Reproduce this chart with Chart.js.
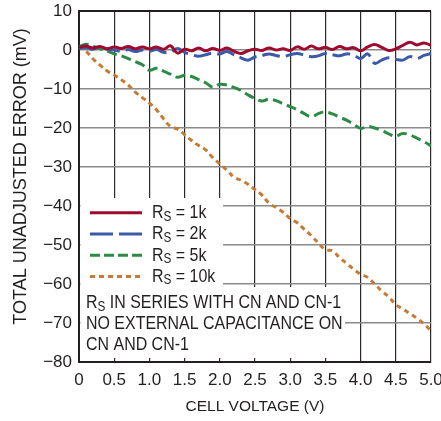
<!DOCTYPE html>
<html>
<head>
<meta charset="utf-8">
<script src="https://cdn.jsdelivr.net/npm/chart.js@4/dist/chart.umd.min.js"></script>
<style>
  html, body { margin: 0; padding: 0; background: #fff; }
</style>
</head>
<body>
<canvas id="errChart" width="441" height="421"></canvas>
<script>
// cell voltage (V), 0.1 V steps
const volts = [0.0, 0.1, 0.2, 0.3, 0.4, 0.5, 0.6, 0.7, 0.8, 0.9,
  1.0, 1.1, 1.2, 1.3, 1.4, 1.5, 1.6, 1.7, 1.8, 1.9,
  2.0, 2.1, 2.2, 2.3, 2.4, 2.5, 2.6, 2.7, 2.8, 2.9,
  3.0, 3.1, 3.2, 3.3, 3.4, 3.5, 3.6, 3.7, 3.8, 3.9,
  4.0, 4.1, 4.2, 4.3, 4.4, 4.5, 4.6, 4.7, 4.8, 4.9, 5.0];

// total unadjusted error (mV) per source resistance
const err1k = [0.7, 1.0, 0.5, 0.9, 0.3, 0.8, 0.4, 0.9, 0.3, 0.8,
  0.3, 0.8, 0.2, 1.1, -0.8, 0.2, -0.2, 0.5, -0.2, 0.4,
  -0.1, 0.5, -0.3, -0.9, -0.2, 0.2, -0.1, 0.5, 0.0, 0.3,
  -0.1, 0.8, 0.2, 1.0, 0.3, 0.7, 0.1, 0.9, 0.3, 0.6,
  -0.2, 0.8, 1.4, 0.7, -0.1, 0.3, 1.2, 2.0, 1.3, 1.8, 1.2];
const err2k = [0.4, 0.6, 0.2, 0.8, 0.2, 0.0, -0.3, 0.1, -0.4, 0.0,
  -0.3, 0.1, -0.6, -0.6, 0.4, -0.6, -1.2, -1.6, -1.2, -0.8,
  -1.0, -0.4, -1.2, -2.0, -2.6, -1.8, -1.4, -1.0, -1.4, -1.7,
  -1.2, -0.9, -1.3, -1.7, -1.5, -0.9, -1.2, -1.5, -1.0, -1.3,
  -2.2, -1.0, -3.4, -2.6, -2.0, -2.4, -2.6, -1.7, -2.2, -1.4, -0.9];
const err5k = [0.8, 1.5, 1.0, 0.3, -0.3, -1.0, -1.5, -2.2, -3.0, -3.8,
  -5.2, -4.7, -5.4, -6.2, -7.0, -6.5, -6.8, -7.6, -8.4, -9.5,
  -8.8, -9.0, -9.6, -10.4, -11.5, -12.4, -13.1, -12.6, -13.0, -13.8,
  -14.5, -15.3, -16.3, -17.1, -16.3, -15.9, -16.4, -17.2, -18.0, -19.0,
  -20.1, -19.6, -20.0, -20.6, -21.5, -22.1, -21.4, -21.8, -22.6, -23.5, -24.6];
const err10k = [1.0, -0.3, -2.3, -3.9, -5.4, -6.4, -7.6, -9.0, -10.8, -12.2,
  -13.6, -15.3, -17.6, -19.6, -20.3, -21.7, -23.2, -24.5, -25.6, -27.6,
  -29.2, -30.8, -32.6, -33.4, -34.4, -35.8, -37.2, -39.3, -40.4, -41.6,
  -43.2, -44.3, -46.0, -47.6, -49.5, -51.2, -51.5, -53.2, -54.7, -56.2,
  -57.5, -58.3, -60.0, -61.8, -63.3, -65.3, -66.4, -67.6, -68.8, -70.2, -72.0];

const rsLabels = ['1k', '2k', '5k', '10k'];
const noteLines = ['IN SERIES WITH CN AND CN-1', 'NO EXTERNAL CAPACITANCE ON', 'CN AND CN-1'];

const FONT = "'Liberation Sans', Arial, sans-serif";
const INK = '#231f20';
const SQUEEZE = 0.84; // the sheet uses a condensed face

Chart.defaults.font.family = FONT;
Chart.defaults.color = INK;

function pts(ys) {
  return volts.map((v, i) => ({ x: v, y: ys[i] }));
}

function minusSign(v) {
  return v < 0 ? '\u2212' + Math.abs(v) : String(v);
}

// "R" + subscript "S" + rest, squeezed horizontally
function drawRs(ctx, x, y, rest, size) {
  ctx.save();
  ctx.translate(x, y);
  ctx.scale(SQUEEZE, 1);
  let cx = 0;
  ctx.font = size + 'px ' + FONT;
  ctx.fillText('R', cx, 0);
  cx += ctx.measureText('R').width;
  ctx.font = Math.round(size * 0.75) + 'px ' + FONT;
  ctx.fillText('S', cx, 4);
  cx += ctx.measureText('S').width;
  ctx.font = size + 'px ' + FONT;
  ctx.fillText(rest, cx, 0);
  ctx.restore();
}

function drawText(ctx, x, y, text, size) {
  ctx.save();
  ctx.translate(x, y);
  ctx.scale(SQUEEZE, 1);
  ctx.font = size + 'px ' + FONT;
  ctx.fillText(text, 0, 0);
  ctx.restore();
}

// legend and note boxes sit over the grid, like the original sheet
const notesPlugin = {
  id: 'notes',
  afterDatasetsDraw(chart) {
    const { ctx, chartArea: a } = chart;
    ctx.save();
    ctx.fillStyle = '#fff';
    ctx.fillRect(a.left + 1.5, 198, 144 - 1.5, 89);
    ctx.fillRect(a.left + 1.5, 287, 266 - 1.5, 71);

    ctx.textBaseline = 'middle';
    ctx.textAlign = 'left';
    chart.data.datasets.forEach((ds, i) => {
      const y = 212.7 + i * 21.3;
      ctx.strokeStyle = ds.borderColor;
      ctx.lineWidth = 3;
      ctx.setLineDash(ds.legendDash);
      ctx.beginPath();
      ctx.moveTo(a.left + 11, y);
      ctx.lineTo(a.left + 63, y);
      ctx.stroke();
      ctx.fillStyle = INK;
      drawRs(ctx, a.left + 73, y, ' = ' + rsLabels[i], 19);
    });
    ctx.setLineDash([]);

    ctx.fillStyle = INK;
    drawRs(ctx, a.left + 7, 303, ' ' + noteLines[0], 19);
    drawText(ctx, a.left + 7, 324, noteLines[1], 19);
    drawText(ctx, a.left + 7, 345, noteLines[2], 19);
    ctx.restore();
  }
};

const ctx = document.getElementById('errChart').getContext('2d');
new Chart(ctx, {
  type: 'line',
  data: {
    datasets: [
      { label: 'RS = 1k', data: pts(err1k), borderColor: '#9e0b2e', borderDash: [], legendDash: [] },
      { label: 'RS = 2k', data: pts(err2k), borderColor: '#3b5ba8', borderDash: [18, 6], legendDash: [23, 6] },
      { label: 'RS = 5k', data: pts(err5k), borderColor: '#2e8b47', borderDash: [10, 5], legendDash: [10, 4] },
      { label: 'RS = 10k', data: pts(err10k), borderColor: '#c57b35', borderDash: [5, 4], legendDash: [5, 4] }
    ].map(ds => Object.assign(ds, { borderWidth: 3, pointRadius: 0, tension: 0.4, fill: false }))
  },
  options: {
    responsive: false,
    animation: false,
    layout: { padding: { top: 11, right: 10, bottom: 0, left: 0 } },
    plugins: {
      legend: { display: false },
      tooltip: { enabled: false }
    },
    scales: {
      x: {
        type: 'linear',
        min: 0,
        max: 5,
        ticks: {
          stepSize: 0.5,
          padding: 8,
          font: { size: 17 },
          callback: v => v === 0 ? '0' : v.toFixed(1)
        },
        grid: { color: '#2a2a2a', lineWidth: 1.2, drawTicks: false },
        border: { color: INK, width: 2 },
        title: { display: true, text: 'CELL VOLTAGE (V)', font: { size: 15.5 }, padding: { top: 4, bottom: 5 } },
        afterFit(scale) {
          scale.height = 59;
          scale.paddingLeft = 0;
          scale.paddingRight = 0;
        }
      },
      y: {
        min: -80,
        max: 10,
        ticks: {
          stepSize: 10,
          padding: 7,
          font: { size: 17 },
          callback: v => minusSign(v)
        },
        grid: {
          color: c => c.tick && c.tick.value === 10 ? INK : '#8a8a8a',
          lineWidth: c => c.tick && c.tick.value === 10 ? 2 : 1.5,
          drawTicks: false
        },
        border: { color: INK, width: 2 },
        title: { display: true, text: '    TOTAL UNADJUSTED ERROR (mV)', font: { size: 18 }, padding: { top: 10, bottom: 4 } },
        afterFit(scale) {
          scale.width = 79;
          scale.paddingTop = 0;
          scale.paddingBottom = 0;
        }
      }
    }
  },
  plugins: [notesPlugin]
});
</script>
</body>
</html>
